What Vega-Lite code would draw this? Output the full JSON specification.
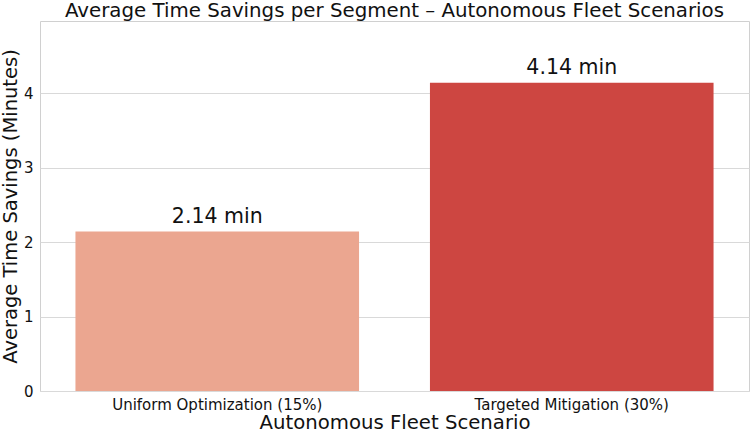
{
  "$schema": "https://vega.github.io/schema/vega-lite/v6.json",
  "width": 709,
  "height": 370,
  "autosize": {"type": "none"},
  "padding": {"left": 40, "top": 21, "right": 1, "bottom": 42},
  "background": "white",
  "config": {
    "font": "DejaVu Sans",
    "view": {"stroke": "#d0d0d0", "strokeWidth": 1}
  },
  "title": {
    "text": "Average Time Savings per Segment – Autonomous Fleet Scenarios",
    "fontSize": 19.8,
    "fontWeight": "normal",
    "color": "#111111",
    "anchor": "middle",
    "offset": 0
  },
  "data": {
    "values": [
      {"scenario": "Uniform Optimization (15%)", "savings": 2.14, "label": "2.14 min"},
      {"scenario": "Targeted Mitigation (30%)", "savings": 4.14, "label": "4.14 min"}
    ]
  },
  "encoding": {
    "x": {
      "field": "scenario",
      "type": "nominal",
      "sort": null,
      "scale": {"paddingInner": 0.2, "paddingOuter": 0.1},
      "axis": {
        "title": "Autonomous Fleet Scenario",
        "titleFontSize": 19.7,
        "titleFontWeight": "normal",
        "titleColor": "#111111",
        "titlePadding": 0,
        "labelAngle": 0,
        "labelFontSize": 15,
        "labelLimit": 400,
        "labelColor": "#111111",
        "labelPadding": 6,
        "ticks": false,
        "domain": false
      }
    },
    "y": {
      "field": "savings",
      "type": "quantitative",
      "scale": {"domain": [0, 4.968], "nice": false},
      "axis": {
        "title": "Average Time Savings (Minutes)",
        "titleFontSize": 19.5,
        "titleFontWeight": "normal",
        "titleColor": "#111111",
        "titlePadding": 3,
        "values": [0, 1, 2, 3, 4],
        "labelFontSize": 15,
        "labelColor": "#111111",
        "labelPadding": 7,
        "ticks": false,
        "domain": false,
        "gridColor": "#d9d9d9",
        "gridWidth": 1
      }
    }
  },
  "layer": [
    {
      "mark": {"type": "bar"},
      "encoding": {
        "color": {
          "field": "scenario",
          "type": "nominal",
          "sort": null,
          "scale": {"range": ["#EBA690", "#CD4641"]},
          "legend": null
        }
      }
    },
    {
      "mark": {"type": "text", "baseline": "alphabetic", "dy": -9, "fontSize": 20.5, "color": "#111111"},
      "encoding": {"text": {"field": "label"}}
    }
  ]
}
